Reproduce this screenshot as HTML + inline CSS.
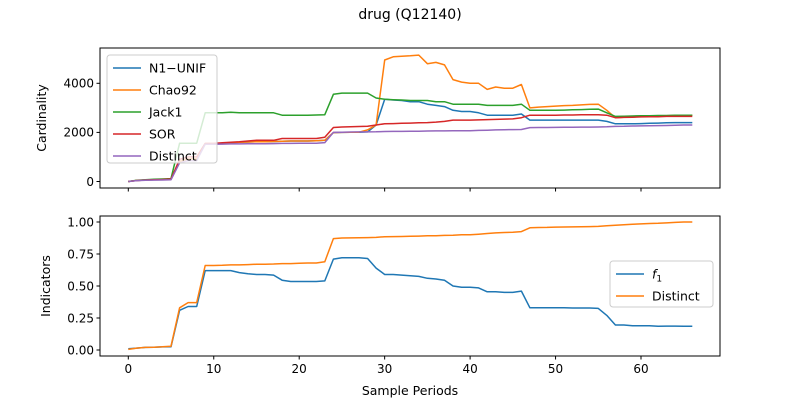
<!DOCTYPE html>
<html><head><meta charset="utf-8"><style>
body{margin:0;background:#fff}
text{font-family:"DejaVu Sans","Liberation Sans",sans-serif;fill:#000}
</style></head><body>
<svg id="c" width="800" height="400" viewBox="0 0 800 400"></svg>
<script>
const periods=[...Array(67).keys()];
const n1unif=[0,40,60,70,80,100,820,920,920,1530,1540,1560,1580,1600,1610,1620,1620,1630,1640,1650,1650,1650,1660,1680,1990,2000,2010,2010,2020,2300,3350,3320,3300,3250,3250,3150,3100,3050,2900,2850,2850,2800,2700,2700,2700,2700,2750,2500,2500,2500,2500,2500,2500,2500,2500,2500,2450,2350,2350,2350,2360,2370,2380,2390,2400,2400,2400];
const chao92=[0,40,60,70,80,100,820,920,920,1530,1540,1560,1580,1600,1610,1620,1620,1630,1640,1650,1650,1650,1660,1680,1990,2000,2010,2010,2100,2300,4950,5080,5100,5120,5150,4800,4850,4750,4150,4050,4000,4000,3750,3850,3800,3800,3950,3000,3030,3050,3070,3090,3100,3120,3140,3150,2900,2600,2620,2640,2650,2660,2670,2680,2690,2700,2700];
const jack1=[0,50,70,90,100,120,1560,1560,1560,2800,2800,2800,2820,2800,2800,2800,2800,2800,2700,2700,2700,2700,2710,2720,3550,3600,3600,3600,3600,3400,3350,3330,3320,3300,3300,3300,3250,3250,3150,3150,3150,3150,3100,3100,3100,3100,3150,2900,2900,2900,2900,2910,2920,2930,2940,2950,2800,2650,2660,2670,2680,2680,2690,2690,2700,2700,2700];
const sor=[0,40,60,70,80,100,900,1000,1000,1550,1550,1580,1600,1620,1650,1680,1680,1680,1750,1750,1750,1750,1750,1800,2200,2220,2230,2240,2250,2300,2350,2360,2370,2380,2390,2400,2420,2450,2500,2500,2500,2510,2520,2530,2540,2550,2600,2700,2700,2700,2700,2710,2710,2720,2720,2720,2700,2600,2610,2620,2630,2640,2640,2650,2650,2650,2650];
const distinct=[0,35,50,55,60,70,760,850,850,1520,1520,1525,1530,1530,1535,1540,1540,1545,1550,1550,1555,1560,1560,1585,2000,2010,2015,2020,2020,2025,2035,2040,2040,2045,2050,2055,2060,2060,2065,2070,2070,2080,2090,2100,2110,2115,2120,2195,2200,2200,2205,2210,2210,2215,2215,2220,2230,2245,2250,2260,2265,2270,2275,2280,2290,2300,2300];
const f1=[0.01,0.015,0.02,0.022,0.024,0.025,0.31,0.34,0.34,0.62,0.62,0.62,0.62,0.605,0.595,0.59,0.59,0.585,0.545,0.535,0.535,0.535,0.535,0.54,0.71,0.72,0.72,0.72,0.715,0.64,0.59,0.59,0.585,0.58,0.575,0.56,0.555,0.545,0.50,0.49,0.49,0.485,0.455,0.455,0.45,0.45,0.46,0.33,0.33,0.33,0.33,0.33,0.328,0.328,0.328,0.325,0.27,0.195,0.195,0.19,0.19,0.19,0.185,0.187,0.187,0.185,0.185];
const distinctRatio=[0.005,0.015,0.02,0.022,0.025,0.03,0.33,0.37,0.37,0.66,0.66,0.662,0.665,0.665,0.667,0.67,0.67,0.672,0.675,0.675,0.677,0.68,0.68,0.69,0.87,0.875,0.876,0.877,0.878,0.88,0.885,0.886,0.887,0.888,0.89,0.892,0.893,0.895,0.897,0.9,0.9,0.905,0.91,0.915,0.918,0.92,0.925,0.955,0.957,0.958,0.96,0.961,0.962,0.963,0.964,0.966,0.97,0.975,0.978,0.982,0.985,0.988,0.99,0.993,0.997,1.0,1.0];
const xTicks=[0,10,20,30,40,50,60];
const topTicks=[0,2000,4000];
const botTicks=[0,0.25,0.5,0.75,1.0];

const svg=document.getElementById('c');
const NS='http://www.w3.org/2000/svg';
function mk(tag,attrs,parent){const e=document.createElementNS(NS,tag);for(const k in attrs)e.setAttribute(k,attrs[k]);(parent||svg).appendChild(e);return e;}
const L=100,R=720;
const xs=v=>128.3+v*8.545;
const yTop=v=>181.5-v*0.02455;
const yBot=v=>350-v*128;

function axes(top,bot,name){
  const r=mk('rect',{x:L,y:top,width:R-L,height:bot-top,fill:'none',stroke:'#000','stroke-width':1});
  
  
}
function line(vals,ys,color,name){
  const p=mk('polyline',{points:vals.map((v,i)=>xs(periods[i]).toFixed(1)+','+ys(v).toFixed(1)).join(' '),fill:'none',stroke:color,'stroke-width':1.5,'stroke-linejoin':'round'});
  
  
}
function yticks(ticks,ys,fmt,name){
  ticks.forEach(t=>{
    const y=ys(t);
    mk('line',{x1:L-3.5,x2:L,y1:y,y2:y,stroke:'#000'});
    const tx=mk('text',{x:L-6,y:y+4.3,'text-anchor':'end','font-size':12});
    tx.textContent=fmt(t);
    
    
  });
}
function xticks(bot,labels){
  xTicks.forEach(t=>{
    const x=xs(t);
    mk('line',{x1:x,x2:x,y1:bot,y2:bot+3.5,stroke:'#000'});
    if(labels){const tx=mk('text',{x:x,y:bot+17,'text-anchor':'middle','font-size':12});tx.textContent=t;
      
      }
  });
}
const title=mk('text',{x:410,y:19,'text-anchor':'middle','font-size':14});title.textContent='drug (Q12140)';



axes(48,188,'top-axes');
line(n1unif,yTop,'#1f77b4','n1-unif-line');
line(chao92,yTop,'#ff7f0e','chao92-line');
line(jack1,yTop,'#2ca02c','jack1-line');
line(sor,yTop,'#d62728','sor-line');
line(distinct,yTop,'#9467bd','distinct-line');
yticks(topTicks,yTop,t=>t,'top-y-tick-label');
xticks(188,false);
const yt1=mk('text',{x:46,y:118,'text-anchor':'middle','font-size':12.5,transform:'rotate(-90 46 118)'});yt1.textContent='Cardinality';



axes(216,356,'bottom-axes');
line(f1,yBot,'#1f77b4','f1-line');
line(distinctRatio,yBot,'#ff7f0e','distinct-ratio-line');
yticks(botTicks,yBot,t=>t.toFixed(2),'bottom-y-tick-label');
xticks(356,true);
const yt2=mk('text',{x:50,y:286,'text-anchor':'middle','font-size':12.5,transform:'rotate(-90 50 286)'});yt2.textContent='Indicators';


const xt=mk('text',{x:410,y:395,'text-anchor':'middle','font-size':12.5});xt.textContent='Sample Periods';



function legend(x,y,w,h,items,name){
  const g=mk('g',{});
  
  
  mk('rect',{x:x,y:y,width:w,height:h,rx:3,fill:'#fff','fill-opacity':0.8,stroke:'#ccc'},g);
  items.forEach((it,i)=>{
    const yy=y+13+i*22;
    mk('line',{x1:x+6,x2:x+34,y1:yy,y2:yy,stroke:it[1],'stroke-width':1.5},g);
    const t=mk('text',{x:x+42,y:yy+4.5,'font-size':12.5},g);
    if(it[0]==='f1'){t.innerHTML='<tspan font-style="italic">f</tspan><tspan font-size="9" dy="3">1</tspan>';}else t.textContent=it[0];
    
    
  });
}
legend(107,55,110,108,[['N1\u2212UNIF','#1f77b4'],['Chao92','#ff7f0e'],['Jack1','#2ca02c'],['SOR','#d62728'],['Distinct','#9467bd']],'top-legend');
legend(610,261,103,46,[['f1','#1f77b4'],['Distinct','#ff7f0e']],'bottom-legend');
</script>
</body></html>
